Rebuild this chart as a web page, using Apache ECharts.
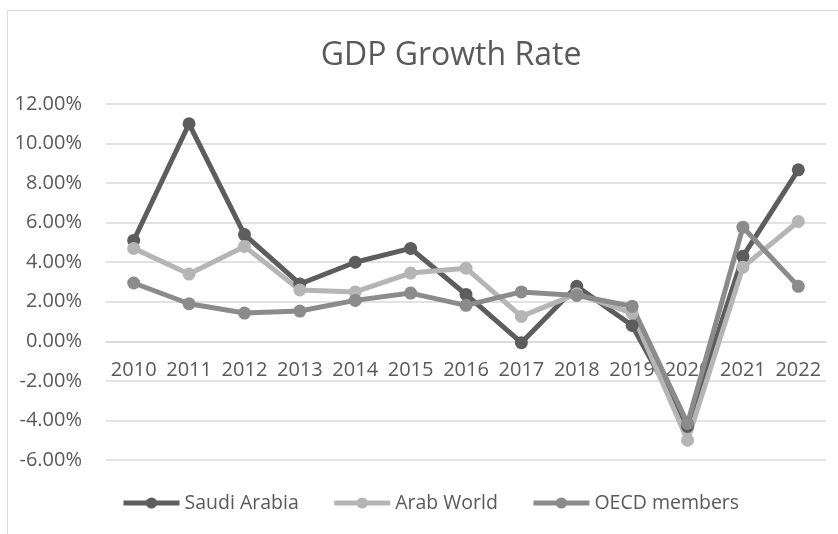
<!DOCTYPE html>
<html>
<head>
<meta charset="utf-8">
<style>
  html, body { margin: 0; padding: 0; background: #fff; }
  #chart { width: 838px; height: 534px; }
</style>
<script src="https://cdn.jsdelivr.net/npm/echarts@6/dist/echarts.min.js"></script>
</head>
<body>
<div id="chart"></div>
<script>
// Annual GDP growth, in percent
const years = ['2010', '2011', '2012', '2013', '2014', '2015', '2016', '2017', '2018', '2019', '2020', '2021', '2022'];
const saudiArabia = [5.1, 11.0, 5.4, 2.9, 4.0, 4.7, 2.37, -0.07, 2.78, 0.8, -4.3, 4.3, 8.67];
const arabWorld = [4.7, 3.4, 4.8, 2.6, 2.5, 3.45, 3.7, 1.26, 2.4, 1.43, -5.0, 3.75, 6.06];
const oecdMembers = [2.95, 1.9, 1.43, 1.53, 2.07, 2.44, 1.82, 2.5, 2.32, 1.77, -4.15, 5.77, 2.78];
const seriesNames = ['Saudi Arabia', 'Arab World', 'OECD members'];
const seriesColors = ['#5d5d5d', '#b5b5b5', '#8b8b8b'];

const FONT = '"Open Sans", "Noto Sans", sans-serif';
const TEXT = '#595959';
const GRID = '#d9d9d9';

// value axis range and plot box
const Y_MIN = -6, Y_MAX = 12, Y_STEP = 2;
const GRID_TOP = 104, GRID_BOTTOM = 74, CHART_H = 534;
const plotH = CHART_H - GRID_TOP - GRID_BOTTOM;
// lift the category axis so it sits on the zero line
const zeroLift = (0 - Y_MIN) / (Y_MAX - Y_MIN) * plotH;

const chart = echarts.init(document.getElementById('chart'), null, { renderer: 'canvas' });

function lineSeries(name, data, color) {
  return {
    name: name,
    type: 'line',
    data: data,
    symbol: 'circle',
    symbolSize: 13,
    showSymbol: true,
    lineStyle: { width: 5, color: color },
    itemStyle: { color: color },
    emphasis: { disabled: true },
    animation: false
  };
}

chart.setOption({
  animation: false,
  graphic: [{
    type: 'rect',
    shape: { x: 7.5, y: 10.5, width: 840, height: 540 },
    style: { fill: 'none', stroke: GRID, lineWidth: 1 },
    silent: true
  }],
  title: {
    text: 'GDP Growth Rate',
    left: 446,
    textAlign: 'center',
    top: 35,
    textStyle: { fontFamily: FONT, fontSize: 32, fontWeight: 'normal', color: TEXT }
  },
  legend: {
    data: seriesNames,
    left: 116,
    top: 488,
    itemWidth: 56,
    itemHeight: 14,
    itemGap: 33,
    lineStyle: { width: 5 },
    textStyle: { fontFamily: FONT, fontSize: 19.5, color: TEXT }
  },
  grid: { left: 106, right: 12, top: GRID_TOP, bottom: GRID_BOTTOM, containLabel: false },
  xAxis: {
    type: 'category',
    data: years,
    boundaryGap: true,
    offset: -zeroLift,
    axisLine: { onZero: false, lineStyle: { color: GRID, width: 1.5 } },
    axisTick: { show: false },
    axisLabel: { interval: 0, margin: 19, fontFamily: FONT, fontSize: 20, color: TEXT }
  },
  yAxis: {
    type: 'value',
    min: Y_MIN,
    max: Y_MAX,
    interval: Y_STEP,
    axisLine: { show: false },
    axisTick: { show: false },
    splitLine: { lineStyle: { color: GRID, width: 1.5 } },
    axisLabel: {
      margin: 24,
      fontFamily: FONT,
      fontSize: 20,
      color: TEXT,
      formatter: v => v.toFixed(2) + '%'
    }
  },
  series: [
    lineSeries(seriesNames[0], saudiArabia, seriesColors[0]),
    lineSeries(seriesNames[1], arabWorld, seriesColors[1]),
    lineSeries(seriesNames[2], oecdMembers, seriesColors[2])
  ]
});
</script>
</body>
</html>
